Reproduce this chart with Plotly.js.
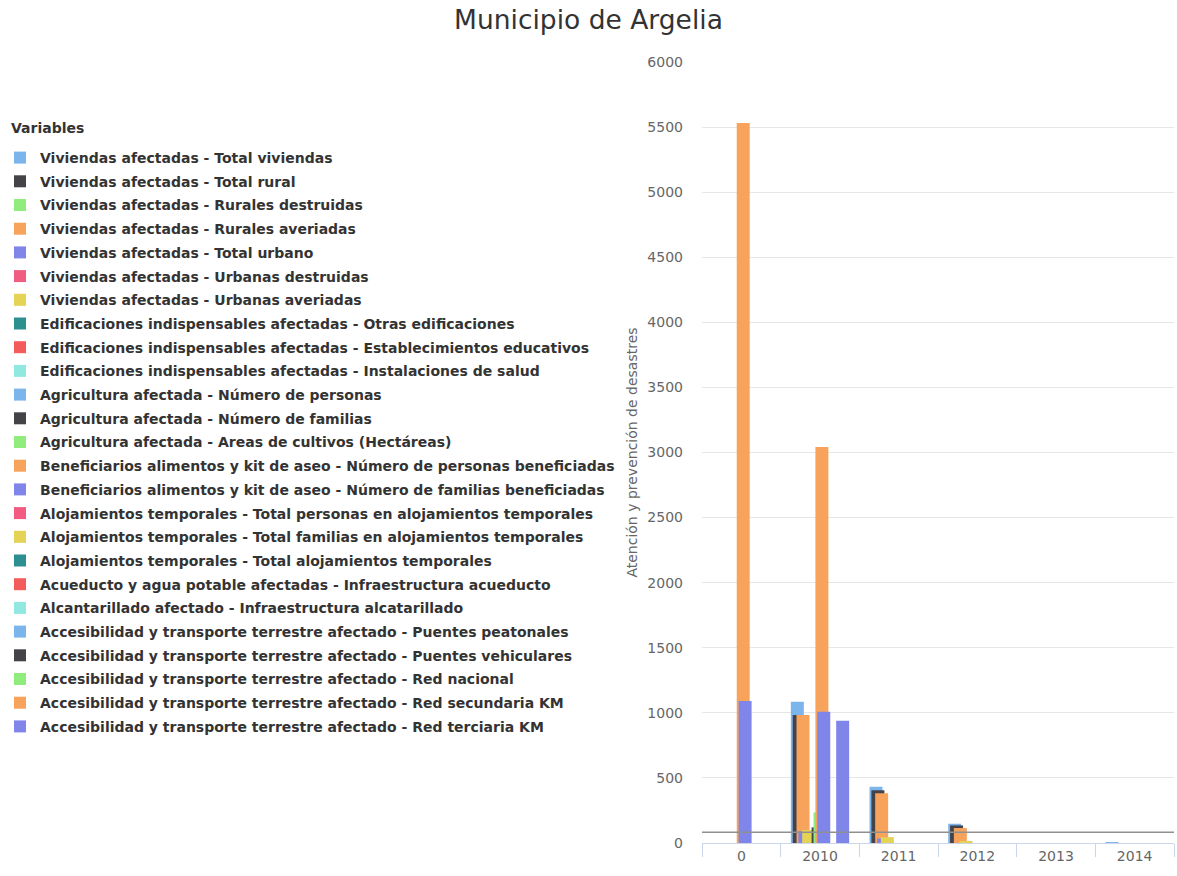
<!DOCTYPE html>
<html>
<head>
<meta charset="utf-8">
<script src="https://cdn.plot.ly/plotly-3.0.1.min.js"></script>
<style>html,body{margin:0;padding:0;background:#fff;}#chart{width:1177px;height:876px;}</style>
</head>
<body>
<div id="chart"></div>
<script>
var categories = ['0', '2010', '2011', '2012', '2013', '2014'];

var seriesNames = [
  'Viviendas afectadas - Total viviendas',
  'Viviendas afectadas - Total rural',
  'Viviendas afectadas - Rurales destruidas',
  'Viviendas afectadas - Rurales averiadas',
  'Viviendas afectadas - Total urbano',
  'Viviendas afectadas - Urbanas destruidas',
  'Viviendas afectadas - Urbanas averiadas',
  'Edificaciones indispensables afectadas - Otras edificaciones',
  'Edificaciones indispensables afectadas - Establecimientos educativos',
  'Edificaciones indispensables afectadas - Instalaciones de salud',
  'Agricultura afectada - Número de personas',
  'Agricultura afectada - Número de familias',
  'Agricultura afectada - Areas de cultivos (Hectáreas)',
  'Beneficiarios alimentos y kit de aseo - Número de personas beneficiadas',
  'Beneficiarios alimentos y kit de aseo - Número de familias beneficiadas',
  'Alojamientos temporales - Total personas en alojamientos temporales',
  'Alojamientos temporales - Total familias en alojamientos temporales',
  'Alojamientos temporales - Total alojamientos temporales',
  'Acueducto y agua potable afectadas - Infraestructura acueducto',
  'Alcantarillado afectado - Infraestructura alcatarillado',
  'Accesibilidad y transporte terrestre afectado - Puentes peatonales',
  'Accesibilidad y transporte terrestre afectado - Puentes vehiculares',
  'Accesibilidad y transporte terrestre afectado - Red nacional',
  'Accesibilidad y transporte terrestre afectado - Red secundaria KM',
  'Accesibilidad y transporte terrestre afectado - Red terciaria KM'
];

// values per series, in category order
var totalViviendas      = [0, 1085, 432, 148, 0, 3];
var totalRural          = [0, 983, 405, 135, 0, 0];
var ruralesDestruidas   = [0, 0, 0, 0, 0, 0];
var ruralesAveriadas    = [0, 983, 382, 115, 0, 0];
var totalUrbano         = [0, 90, 35, 0, 0, 0];
var urbanasDestruidas   = [0, 0, 0, 0, 0, 0];
var urbanasAveriadas    = [0, 100, 45, 12, 0, 0];
var otrasEdificaciones  = [0, 0, 0, 0, 0, 0];
var establecimientos    = [0, 0, 0, 0, 0, 0];
var instalacionesSalud  = [0, 0, 0, 0, 0, 0];
var agriPersonas        = [0, 0, 0, 0, 0, 0];
var agriFamilias        = [0, 120, 0, 0, 0, 0];
var agriCultivos        = [0, 235, 0, 0, 0, 0];
var benefPersonas       = [5531, 3042, 0, 0, 0, 0];
var benefFamilias       = [1091, 1009, 0, 0, 0, 0];
var alojPersonas        = [0, 0, 0, 0, 0, 0];
var alojFamilias        = [0, 0, 0, 0, 0, 0];
var alojTotal           = [0, 0, 0, 0, 0, 0];
var acueducto           = [0, 0, 0, 0, 0, 0];
var alcantarillado      = [0, 0, 0, 0, 0, 0];
var puentesPeatonales   = [0, 0, 0, 0, 0, 0];
var puentesVehiculares  = [0, 0, 0, 0, 0, 0];
var redNacional         = [0, 0, 0, 0, 0, 0];
var redSecundaria       = [0, 0, 0, 0, 0, 0];
var redTerciaria        = [0, 940, 0, 0, 0, 0];

var plotLineValue = [82];

var seriesValues = [totalViviendas, totalRural, ruralesDestruidas, ruralesAveriadas, totalUrbano,
  urbanasDestruidas, urbanasAveriadas, otrasEdificaciones, establecimientos, instalacionesSalud,
  agriPersonas, agriFamilias, agriCultivos, benefPersonas, benefFamilias,
  alojPersonas, alojFamilias, alojTotal, acueducto, alcantarillado,
  puentesPeatonales, puentesVehiculares, redNacional, redSecundaria, redTerciaria];

var palette = ['#7cb5ec', '#434348', '#90ed7d', '#f7a35c', '#8085e9',
               '#f15c80', '#e4d354', '#2b908f', '#f45b5b', '#91e8e1'];

var n = seriesNames.length;
var groupPadding = 0.2;
var barWidth = 0.165;
var slot = (1 - 2 * groupPadding) / n;

var traces = seriesNames.map(function (name, i) {
  var center = -0.5 + groupPadding + (i + 0.5) * slot;
  return {
    type: 'bar',
    name: name,
    x: categories,
    y: seriesValues[i],
    offset: center - barWidth / 2,
    width: barWidth,
    marker: {color: palette[i % palette.length], line: {width: 0}},
    legendgroup: 'g' + i,
    hovertemplate: '%{x}: %{y}<extra>' + name + '</extra>'
  };
});

var W = 1177, H = 876;
var mL = 702, mR = 3, mT = 62, mB = 33;
var plotW = W - mL - mR, plotH = H - mT - mB;

var layout = {
  width: W,
  height: H,
  paper_bgcolor: '#ffffff',
  plot_bgcolor: '#ffffff',
  margin: {l: mL, r: mR, t: mT, b: mB},
  barmode: 'overlay',
  font: {family: 'DejaVu Sans', color: '#666666'},
  title: {
    text: 'Municipio de Argelia',
    font: {family: 'DejaVu Sans', size: 26.5, color: '#333333'},
    x: 0.5, xref: 'container', xanchor: 'center',
    y: 1 - 20 / H, yref: 'container', yanchor: 'middle'
  },
  xaxis: {
    type: 'category',
    tickson: 'boundaries',
    ticks: 'outside',
    ticklen: 13,
    tickcolor: '#ccd6eb',
    showline: true,
    linecolor: '#ccd6eb',
    linewidth: 1,
    showgrid: false,
    zeroline: false,
    tickfont: {family: 'DejaVu Sans', size: 14, color: '#666666'},
    fixedrange: true
  },
  yaxis: {
    range: [0, 6000],
    dtick: 500,
    showgrid: true,
    gridcolor: '#e6e6e6',
    zeroline: false,
    showline: false,
    ticks: '',
    ticklabelstandoff: 18,
    tickfont: {family: 'DejaVu Sans', size: 14, color: '#666666'},
    title: {
      text: 'Atención y prevención de desastres',
      font: {family: 'DejaVu Sans', size: 14, color: '#666666'},
      standoff: 6
    },
    fixedrange: true
  },
  shapes: plotLineValue.map(function (v) {
    return {type: 'line', xref: 'paper', x0: 0, x1: 1, yref: 'y', y0: v, y1: v,
            line: {color: '#909090', width: 1.5}, layer: 'above'};
  }),
  annotations: [{
    text: 'Variables', showarrow: false,
    xref: 'paper', yref: 'paper',
    x: (9 - mL) / plotW, xanchor: 'left',
    y: 1 - (128 - mT) / plotH, yanchor: 'middle',
    font: {family: 'DejaVu Sans', size: 14, color: '#333333', weight: 'bold'}
  }],
  showlegend: true,
  legend: {
    xref: 'container', yref: 'container',
    x: 0, xanchor: 'left',
    y: 1 - 142 / H, yanchor: 'top',
    maxheight: 800,
    traceorder: 'grouped',
    tracegroupgap: 2.5,
    bgcolor: 'rgba(0,0,0,0)',
    font: {family: 'DejaVu Sans', size: 14, color: '#333333', weight: 'bold'}
  }
};

Plotly.newPlot('chart', traces, layout, {displayModeBar: false});
</script>
</body>
</html>
